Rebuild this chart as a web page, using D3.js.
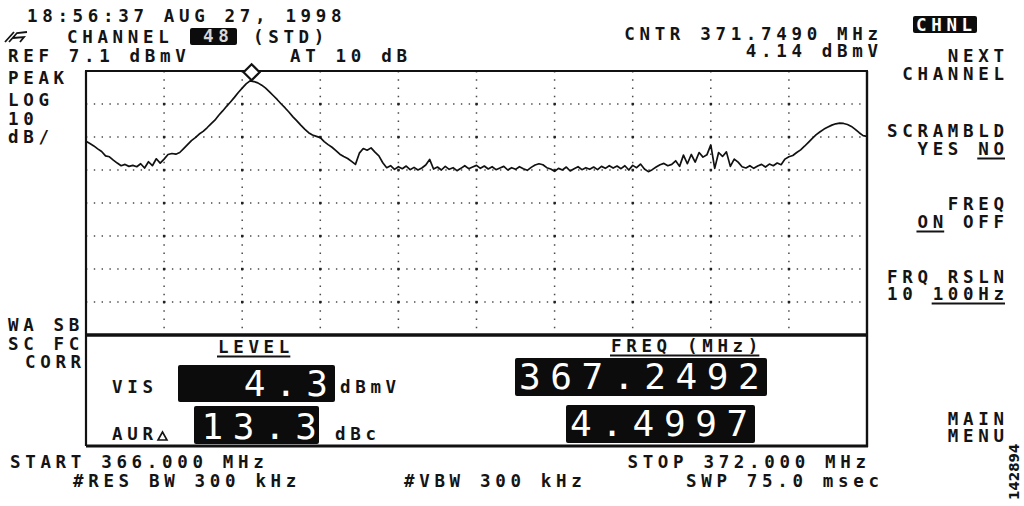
<!DOCTYPE html>
<html>
<head>
<meta charset="utf-8">
<script src="https://cdn.jsdelivr.net/npm/d3@7"></script>
<style>
  html, body { margin: 0; padding: 0; background: #fff; }
  svg { display: block; }
</style>
</head>
<body>
<script>
// ---------------- DATA ----------------
const sweepMHz = [366.0, 372.0];           // START / STOP
const refLevel = [7.1];                    // REF dBmV
const dbPerDiv = [10];
const traceDbmV = [
  -14.2,-14.9,-15.6,-16.5,-17.3,-18.6,-18.9,-19.9,-20.8,-21.6,
  -21.2,-21.8,-21.5,-21.9,-21.0,-22.3,-20.4,-21.6,-19.5,-20.8,
  -19.6,-18.2,-17.9,-18.1,-17.6,-16.4,-15.2,-14.0,-13.1,-12.0,
  -11.2,-10.1,-8.9,-7.8,-6.3,-5.0,-3.6,-2.3,-0.9,0.6,
  1.9,3.2,4.1,3.9,3.5,2.8,1.9,0.8,-0.4,-1.6,
  -2.9,-4.1,-5.4,-6.8,-8.0,-9.3,-10.5,-11.6,-12.3,-12.7,
  -13.1,-14.3,-15.2,-16.0,-17.0,-18.1,-18.8,-19.4,-20.3,-21.2,
  -17.8,-16.4,-16.9,-16.2,-17.5,-18.6,-20.7,-22.2,-21.6,-22.7,
  -21.9,-22.5,-21.7,-22.8,-22.1,-22.9,-22.3,-21.4,-19.7,-22.6,
  -22.0,-22.9,-21.8,-22.7,-22.2,-23.1,-22.4,-21.6,-22.5,-22.0,
  -21.5,-22.4,-21.7,-22.6,-21.9,-22.8,-22.3,-21.8,-22.9,-22.2,
  -22.7,-21.9,-22.5,-23.0,-22.1,-21.4,-21.0,-21.3,-22.2,-22.6,
  -23.3,-22.4,-22.9,-22.0,-23.2,-22.5,-21.9,-22.8,-22.2,-22.7,
  -22.0,-22.8,-21.8,-22.4,-21.6,-22.3,-21.7,-22.5,-21.6,-22.9,
  -21.5,-22.2,-21.1,-22.6,-23.4,-22.8,-22.0,-21.3,-20.9,-21.6,
  -21.2,-20.1,-21.8,-18.4,-21.0,-18.2,-20.5,-17.6,-19.0,-18.3,
  -15.3,-22.4,-17.6,-18.8,-17.4,-21.8,-19.6,-20.5,-21.9,-22.3,
  -21.6,-22.4,-21.7,-21.2,-22.0,-21.1,-21.6,-20.8,-21.3,-19.6,
  -18.9,-18.5,-17.6,-16.8,-15.7,-14.5,-13.3,-12.2,-11.3,-10.5,
  -9.9,-9.3,-8.9,-8.7,-8.8,-9.1,-9.7,-10.6,-11.6,-12.5,
  -12.7
];
const freqGridMHz = [366.6, 367.2, 367.8, 368.4, 369.0, 369.6, 370.2, 370.8, 371.4];
const levelGridDbmV = [-2.9, -12.9, -22.9, -32.9, -42.9, -52.9, -62.9];
const markerFreqMHz = [367.2492];
const markerLevelDbmV = [4.14];

// ---------------- TEXT HELPERS ----------------
const FS = 17.5, CW = FS * 0.602, ADV = 15.2, LS = ADV - CW;
const INK = "#141414";
const svg = d3.select("body").append("svg").attr("width", 1024).attr("height", 506);
svg.append("rect").attr("width", 1024).attr("height", 506).attr("fill", "#fff");

function label(str, x, y, o = {}) {
  const n = str.length;
  const x0 = o.right !== undefined ? o.right - ((n - 1) * ADV + CW) : x;
  svg.append("text")
    .attr("x", x0).attr("y", y)
    .attr("font-family", "DejaVu Sans Mono, monospace")
    .attr("font-weight", "bold")
    .attr("font-size", FS)
    .attr("letter-spacing", LS)
    .attr("fill", o.fill || INK)
    .attr("xml:space", "preserve")
    .text(str);
  if (o.under) {
    const [k, m] = o.under;
    svg.append("line")
      .attr("x1", x0 + k * ADV - 1).attr("x2", x0 + (k + m - 1) * ADV + CW + 1)
      .attr("y1", y + 3.5).attr("y2", y + 3.5)
      .attr("stroke", INK).attr("stroke-width", 2);
  }
  return x0;
}
const BFS = 36, BCW = BFS * 0.602, BADV = 31.3;
function bigDigits(str, x, y, o = {}) {
  const n = str.length;
  const x0 = o.right !== undefined ? o.right - ((n - 1) * BADV + BCW) : x;
  svg.append("text")
    .attr("x", x0).attr("y", y)
    .attr("font-family", "DejaVu Sans Mono, monospace")
    .attr("font-size", BFS)
    .attr("letter-spacing", BADV - BCW)
    .attr("fill", "#fff")
    .text(str);
}
function box(x, y, w, h) {
  svg.append("rect").attr("x", x).attr("y", y).attr("width", w).attr("height", h)
    .attr("rx", 2).attr("fill", "#0c0c0c");
}

// ---------------- SCALES ----------------
const L = 86, R = 867, T = 71, B = 335;
const x = d3.scaleLinear().domain(sweepMHz).range([L, R]);
const yBottom = refLevel[0] - dbPerDiv[0] * 8;
const y = d3.scaleLinear().domain([refLevel[0], yBottom]).range([T, B]);

// ---------------- GRATICULE ----------------
const grid = svg.append("g");
grid.selectAll(".hg").data(levelGridDbmV).enter().append("line")
  .attr("x1", L).attr("x2", R).attr("y1", d => y(d)).attr("y2", d => y(d))
  .attr("stroke", "#4a4a4a").attr("stroke-width", 1.5)
  .attr("stroke-dasharray", `1.4 ${(R - L) / 100 - 1.4}`);
grid.selectAll(".vg").data(freqGridMHz).enter().append("line")
  .attr("x1", d => x(d)).attr("x2", d => x(d)).attr("y1", T).attr("y2", B)
  .attr("stroke", "#4a4a4a").attr("stroke-width", 1.5)
  .attr("stroke-dasharray", `1.4 ${(B - T) / 32 - 1.4}`);
const inter = [];
freqGridMHz.forEach(f => levelGridDbmV.forEach(l => inter.push([f, l])));
grid.selectAll(".ix").data(inter).enter().append("rect")
  .attr("x", d => x(d[0]) - 1.2).attr("y", d => y(d[1]) - 1.2)
  .attr("width", 2.4).attr("height", 2.4).attr("fill", "#222");

// ---------------- TRACE ----------------
svg.append("clipPath").attr("id", "plotclip").append("rect")
  .attr("x", L).attr("y", T - 2).attr("width", R - L).attr("height", B - T);
const step = (sweepMHz[1] - sweepMHz[0]) / (traceDbmV.length - 1);
const line = d3.line().x((d, i) => x(sweepMHz[0] + i * step)).y(d => y(d));
svg.append("path").datum(traceDbmV).attr("d", line)
  .attr("clip-path", "url(#plotclip)")
  .attr("fill", "none").attr("stroke", "#111").attr("stroke-width", 1.7)
  .attr("stroke-linejoin", "round");

// ---------------- FRAME ----------------
const frame = svg.append("g").attr("stroke", "#111").attr("fill", "none");
frame.append("line").attr("x1", L - 1).attr("x2", R + 1).attr("y1", T).attr("y2", T).attr("stroke-width", 2);
frame.append("line").attr("x1", L).attr("x2", L).attr("y1", T).attr("y2", 446).attr("stroke-width", 2.2);
frame.append("line").attr("x1", R).attr("x2", R).attr("y1", T).attr("y2", 447).attr("stroke-width", 2.4);
frame.append("line").attr("x1", L).attr("x2", R + 1).attr("y1", B).attr("y2", B).attr("stroke-width", 3.4);
frame.append("line").attr("x1", L).attr("x2", R + 1).attr("y1", 446).attr("y2", 446).attr("stroke-width", 3);

// marker diamond sitting on the peak
const mx = x(markerFreqMHz[0]) + 3, my = y(markerLevelDbmV[0]) - 8.5, ds = 8;
svg.append("path")
  .attr("d", `M${mx},${my - ds}L${mx + ds},${my}L${mx},${my + ds}L${mx - ds},${my}Z`)
  .attr("fill", "#fff").attr("stroke", "#111").attr("stroke-width", 2.2);

// ---------------- HEADER TEXT ----------------
label("18:56:37 AUG 27, 1998", 27, 22);
// pen icon
svg.append("path").attr("d", "M5,42 L14,32 M9,42 L17,33 L27,32 M13,38 L24,37 L20,42")
  .attr("fill", "none").attr("stroke", INK).attr("stroke-width", 1.8);
label("CHANNEL", 67, 43);
box(190, 28, 47, 17);
label("48", 203, 42, { fill: "#d8d8d8" });
label("(STD)", 253, 43);
label("REF 7.1 dBmV", 8, 62);
label("AT 10 dB", 290, 62);
label("CNTR 371.7490 MHz", 0, 40, { right: 878 });
label("4.14 dBmV", 0, 57, { right: 878 });
box(913, 16, 64, 17);
label("CHNL", 916, 31, { fill: "#fff" });

// ---------------- RIGHT MENU ----------------
const RM = 1004;
label("NEXT", 0, 62, { right: RM });
label("CHANNEL", 0, 80, { right: RM });
label("SCRAMBLD", 0, 137, { right: RM });
label("YES NO", 0, 155, { right: RM, under: [4, 2] });
label("FREQ", 0, 210, { right: RM });
label("ON OFF", 0, 228, { right: RM, under: [0, 2] });
label("FRQ RSLN", 0, 283, { right: RM });
label("10 100Hz", 0, 300, { right: RM, under: [3, 5] });
label("MAIN", 0, 425, { right: RM });
label("MENU", 0, 442, { right: RM });

// ---------------- LEFT LABELS ----------------
label("PEAK", 8, 84);
label("LOG", 8, 106);
label("10", 8, 125);
label("dB/", 8, 143);
label("WA SB", 8, 331);
label("SC FC", 8, 350);
label("CORR", 25, 368);

// ---------------- READOUT PANEL ----------------
label("LEVEL", 218, 353, { under: [0, 5] });
label("VIS", 112, 393);
box(178, 365, 157, 37);
bigDigits("4.3", 0, 396, { right: 328 });
label("dBmV", 340, 393);
label("AUR", 112, 440);
svg.append("path").attr("d", "M158,440 L162.5,432 L167,440 Z")
  .attr("fill", "none").attr("stroke", INK).attr("stroke-width", 1.6);
box(194, 406, 125, 38);
bigDigits("13.3", 0, 439, { right: 317 });
label("dBc", 335, 440);

label("FREQ (MHz)", 611, 352, { under: [0, 10] });
box(515, 358, 252, 38);
bigDigits("367.2492", 519, 389);
box(566, 405, 189, 38);
bigDigits("4.4997", 570, 436);

// ---------------- FOOTER ----------------
label("START 366.000 MHz", 10, 468);
label("STOP 372.000 MHz", 0, 468, { right: 866 });
label("#RES BW 300 kHz", 73, 487);
label("#VBW 300 kHz", 404, 487);
label("SWP 75.0 msec", 686, 487);
svg.append("text")
  .attr("transform", "translate(1019,500) rotate(-90)")
  .attr("font-family", "DejaVu Sans, sans-serif").attr("font-weight", "bold")
  .attr("font-size", 13.5).attr("fill", INK)
  .text("142894");
</script>
</body>
</html>
